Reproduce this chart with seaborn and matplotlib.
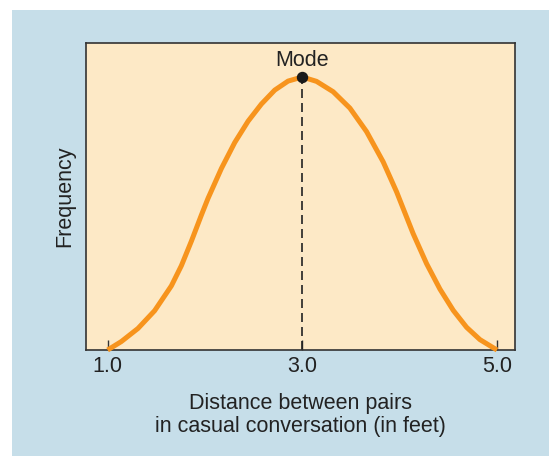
import matplotlib
matplotlib.use("Agg")
import matplotlib.pyplot as plt
import seaborn as sns
import pandas as pd
from matplotlib.patches import Rectangle

# Data
distance = [1.000, 1.141, 1.312, 1.483, 1.655, 1.758, 1.861, 1.963, 2.031, 2.169, 2.306,
            2.443, 2.580, 2.717, 2.854, 3.000,
            3.146, 3.317, 3.489, 3.660, 3.831, 3.969, 4.020, 4.139, 4.277, 4.414,
            4.551, 4.688, 4.825, 5.000]
frequency = [0.000, 0.031, 0.079, 0.144, 0.235, 0.309, 0.399, 0.494, 0.555, 0.665, 0.760,
             0.838, 0.901, 0.952, 0.985, 1.000,
             0.984, 0.946, 0.886, 0.800, 0.689, 0.579, 0.533, 0.426, 0.316, 0.223,
             0.145, 0.083, 0.038, 0.000]
mode_x = 3.0
mode_y = 1.0
tick_values = [1.0, 3.0, 5.0]
tick_labels = ["1.0", "3.0", "5.0"]

sns.set_style("white")
plt.rcParams['font.family'] = ['Liberation Sans', 'DejaVu Sans']

FS = 15.5
fig = plt.figure(figsize=(5.49, 4.58), dpi=100, facecolor="white")
fig.patches.append(Rectangle((12 / 549, 2 / 458), 1 - 12 / 549, (448 - 2) / 458,
                             transform=fig.transFigure, facecolor="#c6dee9",
                             edgecolor="none", zorder=-10))
ax = fig.add_axes([86 / 549, (458 - 350) / 458, (515 - 86) / 549, (350 - 43) / 458])
ax.set_zorder(1)
ax.set_facecolor("#fde9c6")

df = pd.DataFrame({"Distance": distance, "Frequency": frequency})
sns.lineplot(data=df, x="Distance", y="Frequency", ax=ax, color="#f7941d",
             linewidth=3.6, solid_capstyle="butt", solid_joinstyle="round",
             clip_on=False, zorder=3)

ax.plot([mode_x, mode_x], [0, mode_y], color="#222222", linestyle=(0, (5.4, 3)),
        linewidth=1.2, zorder=2)
ax.plot([mode_x], [mode_y], marker="o", markersize=7.2, color="#1a1a1a", zorder=4)
ax.text(mode_x, 1.040, "Mode", ha="center", va="baseline", fontsize=FS,
        color="#222222")

ax.set_xlim(0.778, 5.185)
ax.set_ylim(0, 1.1245)
ax.set_xticks(tick_values)
ax.set_xticklabels(tick_labels)
ax.set_yticks([])
ax.tick_params(axis="x", direction="in", length=7, width=1, color="#333333",
               labelsize=FS, labelcolor="#222222", pad=4, bottom=True)
for s in ax.spines.values():
    s.set_color("#333333")
    s.set_linewidth(1.2)

ax.set_xlabel("Distance between pairs\nin casual conversation (in feet)", fontsize=FS,
              color="#222222", labelpad=12, linespacing=1.1)
ax.set_ylabel("Frequency", fontsize=FS, color="#222222", labelpad=7.5)

fig.savefig("out.png", dpi=100, facecolor=fig.get_facecolor())
